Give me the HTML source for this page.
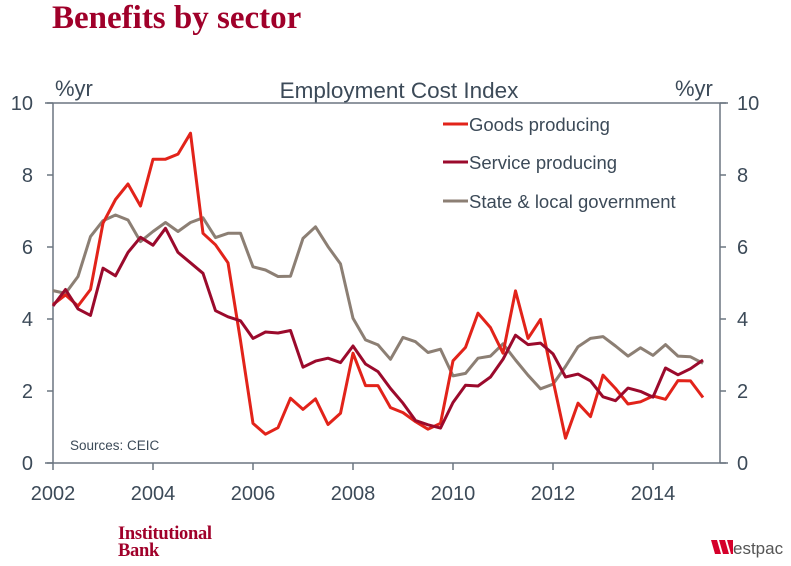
<!DOCTYPE html>
<html><head><meta charset="utf-8">
<style>
body{margin:0;background:#fff;width:791px;height:566px;overflow:hidden;font-family:"Liberation Sans",sans-serif;}
svg{display:block}
</style></head><body>
<svg id="chart" width="791" height="566" viewBox="0 0 791 566" xmlns="http://www.w3.org/2000/svg">
<text x="52" y="28" font-family="Liberation Serif,serif" font-weight="bold" font-size="33" fill="#a0002a">Benefits by sector</text>
<text x="399" y="98" text-anchor="middle" font-size="22.5" fill="#3c4a58">Employment Cost Index</text>
<text x="55" y="96" font-size="22" fill="#3c4a58">%yr</text>
<text x="675" y="96" font-size="22" fill="#3c4a58">%yr</text>
<g id="axes"></g>
<g id="series"></g>
<g font-size="18.5" fill="#3c4a58">
 <line x1="443" y1="124" x2="468" y2="124" stroke="#e2231a" stroke-width="3"/>
 <text x="469" y="131">Goods producing</text>
 <line x1="443" y1="162" x2="468" y2="162" stroke="#9b0a2c" stroke-width="3"/>
 <text x="469" y="169">Service producing</text>
 <line x1="443" y1="201" x2="468" y2="201" stroke="#8c7f74" stroke-width="3"/>
 <text x="469" y="208">State &amp; local government</text>
</g>
<text x="70" y="450" font-size="13.5" fill="#3c4a58">Sources: CEIC</text>
<text font-family="Liberation Serif,serif" font-weight="bold" font-size="18.5" fill="#a0002a" letter-spacing="-0.3"><tspan x="118" y="539">Institutional</tspan><tspan x="118" y="556">Bank</tspan></text>
<g>
 <polygon points="711,540 717,540 721,554 715,554" fill="#d5002b"/>
 <polygon points="719,540 725,540 729,554 723,554" fill="#d5002b"/>
 <polygon points="727,540 733,540 733,554 731,554" fill="#d5002b"/>
 <text x="733" y="554" font-size="17" fill="#555">estpac</text>
</g>
</svg>
<script>
const years=["2002","2004","2006","2008","2010","2012","2014"];
const yTicks=[0,2,4,6,8,10];
const goods=[4.4,4.67,4.36,4.82,6.66,7.32,7.75,7.14,8.44,8.44,8.58,9.16,6.38,6.06,5.56,3.4,1.1,0.8,0.98,1.8,1.49,1.78,1.07,1.38,3.05,2.15,2.15,1.54,1.4,1.15,0.94,1.1,2.84,3.21,4.16,3.76,3.05,4.78,3.46,3.99,2.3,0.69,1.66,1.29,2.44,2.07,1.64,1.7,1.86,1.77,2.29,2.28,1.82];
const service=[4.36,4.82,4.28,4.1,5.41,5.2,5.85,6.27,6.05,6.52,5.85,5.56,5.27,4.23,4.06,3.95,3.46,3.64,3.61,3.68,2.66,2.83,2.91,2.79,3.25,2.75,2.54,2.07,1.66,1.18,1.06,0.97,1.68,2.16,2.14,2.39,2.88,3.55,3.29,3.33,3.03,2.39,2.47,2.28,1.84,1.73,2.08,1.99,1.83,2.64,2.45,2.62,2.86];
const state=[4.79,4.71,5.18,6.29,6.73,6.89,6.75,6.15,6.43,6.68,6.43,6.68,6.81,6.26,6.38,6.38,5.45,5.36,5.18,5.19,6.24,6.56,6.01,5.53,4.02,3.42,3.28,2.88,3.49,3.37,3.07,3.16,2.42,2.49,2.91,2.97,3.31,2.86,2.44,2.06,2.19,2.68,3.23,3.46,3.51,3.25,2.97,3.2,2.99,3.29,2.97,2.95,2.77];
const NS="http://www.w3.org/2000/svg";
const X0=53,X1=720,Y0=463,Y1=103;
const xOf=t=>X0+(t-2002)*50;
const yOf=v=>Y0-(v/10)*(Y0-Y1);
function mk(tag,attrs,parent){const e=document.createElementNS(NS,tag);for(const k in attrs)e.setAttribute(k,attrs[k]);parent.appendChild(e);return e;}
const ax=document.getElementById('axes');
const col="#6b7580";
let l=mk('line',{x1:X0,y1:Y1,x2:X0,y2:Y0,stroke:col,'stroke-width':1.5},ax);


l=mk('line',{x1:X1,y1:Y1,x2:X1,y2:Y0,stroke:col,'stroke-width':1.5},ax);


l=mk('line',{x1:45,y1:Y0,x2:728,y2:Y0,stroke:col,'stroke-width':1.5},ax);


l=mk('line',{x1:45,y1:Y1,x2:728,y2:Y1,stroke:col,'stroke-width':1.5},ax);


yTicks.forEach(v=>{
 const y=yOf(v);
 mk('line',{x1:X0-6,y1:y,x2:X0,y2:y,stroke:col,'stroke-width':1.5},ax);
 mk('line',{x1:X1,y1:y,x2:X1+6,y2:y,stroke:col,'stroke-width':1.5},ax);
 let t=mk('text',{x:33,y:y+7,'text-anchor':'end','font-size':20,fill:'#3c4a58'},ax);t.textContent=v;
 
 
 t=mk('text',{x:737,y:y+7,'font-size':20,fill:'#3c4a58'},ax);t.textContent=v;
 
 
});
years.forEach(s=>{
 const x=xOf(+s);
 mk('line',{x1:x,y1:Y0,x2:x,y2:Y0+7,stroke:col,'stroke-width':1.5},ax);
 const t=mk('text',{x:x,y:500,'text-anchor':'middle','font-size':20,fill:'#3c4a58'},ax);t.textContent=s;
 
 
});
const sg=document.getElementById('series');
[[state,'#8c7f74','series-state'],[goods,'#e2231a','series-goods'],[service,'#9b0a2c','series-service']].forEach(([d,c,n])=>{
 const pts=d.map((v,i)=>xOf(2002+i*0.25).toFixed(1)+','+yOf(v).toFixed(1)).join(' ');
 const p=mk('polyline',{points:pts,fill:'none',stroke:c,'stroke-width':3,'stroke-linejoin':'round'},sg);
 
 
});
</script>
</body></html>
